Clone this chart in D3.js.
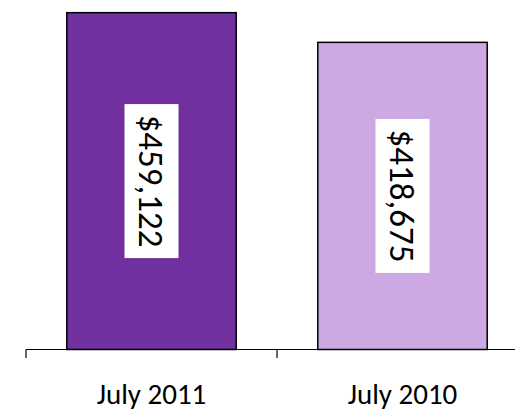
<!DOCTYPE html>
<html>
<head>
<meta charset="utf-8">
<script src="https://cdn.jsdelivr.net/npm/d3@7"></script>
<style>
  body { margin: 0; background: #fff; }
  text { font-family: Carlito, Calibri, Lato, sans-serif; fill: #000; }
</style>
</head>
<body>
<div id="chart"></div>
<script>
const categories = ['July 2011', 'July 2010'];
const values = [459122, 418675];
const barColors = ['#7030A0', '#CCA9E3'];

const width = 515;
const height = 412;
const axisY = 349.5;

const svg = d3.select('#chart')
  .append('svg')
  .attr('width', width)
  .attr('height', height);

// band axis runs off the right edge, like the original
const x = d3.scaleBand()
  .domain(categories)
  .range([26, 528])
  .paddingInner(0.325)
  .paddingOuter(0.1625);

const y = d3.scaleLinear()
  .domain([0, 476400])
  .range([axisY, 0]);

const fmt = d3.format('$,');

svg.selectAll('.bar')
  .data(values)
  .enter()
  .append('rect')
  .attr('class', 'bar')
  .attr('x', (d, i) => x(categories[i]))
  .attr('y', d => y(d))
  .attr('width', x.bandwidth())
  .attr('height', d => axisY - y(d))
  .attr('fill', (d, i) => barColors[i])
  .attr('stroke', '#000')
  .attr('stroke-width', 1.5);

// axis line + ticks at band edges
svg.append('line')
  .attr('x1', 26).attr('x2', width)
  .attr('y1', axisY).attr('y2', axisY)
  .attr('stroke', '#000').attr('stroke-width', 1.2);

const step = x.step();
[0, 1, 2].forEach(i => {
  svg.append('line')
    .attr('x1', 26 + i * step).attr('x2', 26 + i * step)
    .attr('y1', axisY).attr('y2', 358)
    .attr('stroke', '#000').attr('stroke-width', 1.2);
});

svg.selectAll('.cat')
  .data(categories)
  .enter()
  .append('text')
  .attr('class', 'cat')
  .attr('x', d => x(d) + x.bandwidth() / 2)
  .attr('y', 404)
  .attr('text-anchor', 'middle')
  .attr('font-size', 29)
  .text(d => d);

// rotated value labels with white boxes
const lbl = svg.selectAll('.lbl')
  .data(values)
  .enter()
  .append('g')
  .attr('class', 'lbl')
  .attr('transform', (d, i) => `translate(${x(categories[i]) + x.bandwidth() / 2},${(y(d) + axisY) / 2}) rotate(90)`);

lbl.append('rect')
  .attr('x', -77)
  .attr('y', -27)
  .attr('width', 154)
  .attr('height', 54)
  .attr('fill', '#fff');

lbl.append('text')
  .attr('text-anchor', 'middle')
  .attr('dy', '0.36em')
  .attr('font-size', 35)
  .text(d => fmt(d));
</script>
</body>
</html>
